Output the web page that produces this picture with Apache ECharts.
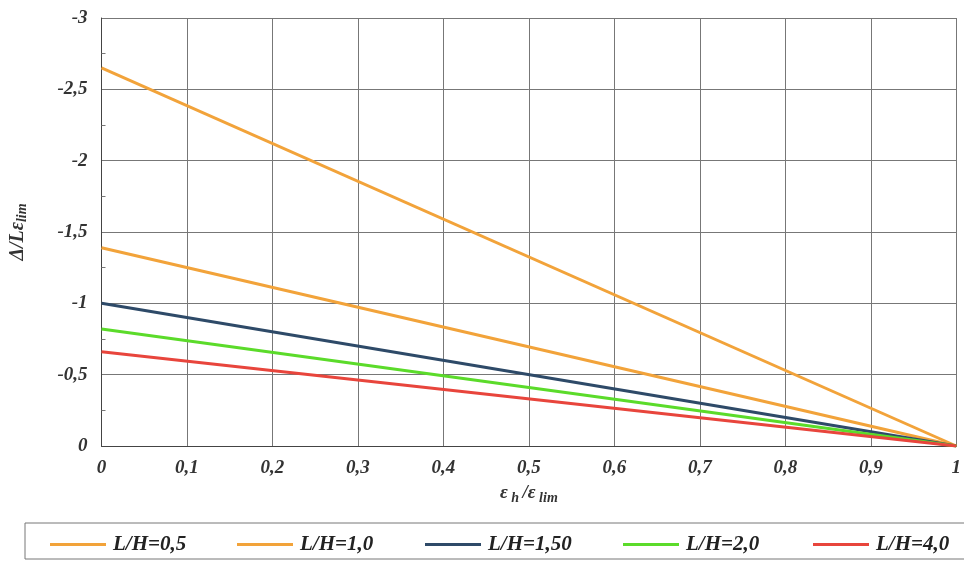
<!DOCTYPE html>
<html><head><meta charset="utf-8">
<script src="https://cdn.jsdelivr.net/npm/echarts@6/dist/echarts.min.js"></script>
<style>html,body{margin:0;padding:0;background:#fff}#c{width:964px;height:561px}</style>
</head><body><div id="c"></div>
<script>
const seriesNames = ['L/H=0,5', 'L/H=1,0', 'L/H=1,50', 'L/H=2,0', 'L/H=4,0'];
const xValues = [0, 1];
const yLH05 = [-2.65, 0];
const yLH10 = [-1.39, 0];
const yLH15 = [-1.0, 0];
const yLH20 = [-0.82, 0];
const yLH40 = [-0.66, 0];
const colors = ['#F2A33A', '#F2A33A', '#2E4A68', '#5BDB2A', '#E8453C'];
const allY = [yLH05, yLH10, yLH15, yLH20, yLH40];

const font = 'Liberation Serif';
const fmt = v => String(Math.round(v * 100) / 100).replace('.', ',');
const legendLefts = [45, 232, 420, 618, 808];

const chart = echarts.init(document.getElementById('c'));
chart.setOption({
  animation: false,
  backgroundColor: '#fff',
  grid: { left: 97, right: 5, top: 18, bottom: 115, containLabel: false },
  graphic: [{
    type: 'rect', shape: { x: 25, y: 523, width: 945, height: 36 },
    style: { fill: 'none', stroke: '#777', lineWidth: 1 }, z: 0
  }],
  legend: seriesNames.map((n, i) => ({
    data: [n], left: legendLefts[i], top: 529, icon: 'rect', itemWidth: 56, itemHeight: 3,
    textStyle: { fontFamily: font, fontStyle: 'italic', fontWeight: 'bold', fontSize: 21, color: '#222', padding: [0, 0, 0, 2] }
  })),
  xAxis: {
    type: 'value', min: 0, max: 1, interval: 0.1,
    axisLine: { show: true, lineStyle: { color: '#444', width: 1 } },
    axisTick: { show: false },
    splitLine: { show: true, lineStyle: { color: '#777', width: 1 } },
    axisLabel: { formatter: fmt, margin: 13, fontFamily: font, fontStyle: 'italic', fontWeight: 'bold', fontSize: 19, color: '#333' },
    name: '{e|ε}{s| h }{e|/ε}{s| lim}', nameLocation: 'middle', nameGap: 36,
    nameTextStyle: {
      rich: {
        e: { fontFamily: font, fontStyle: 'italic', fontWeight: 'bold', fontSize: 19, color: '#333' },
        s: { fontFamily: font, fontStyle: 'italic', fontWeight: 'bold', fontSize: 14, color: '#333', padding: [9, 0, 0, 0] }
      }
    }
  },
  yAxis: {
    type: 'value', min: -3, max: 0, interval: 0.5, inverse: true,
    axisLine: { show: true, lineStyle: { color: '#444', width: 1 } },
    axisTick: { show: false, inside: true },
    minorTick: { show: true, splitNumber: 2, length: 4, lineStyle: { color: '#777' } },
    splitLine: { show: true, lineStyle: { color: '#777', width: 1 } },
    axisLabel: { formatter: fmt, margin: 14, fontFamily: font, fontStyle: 'italic', fontWeight: 'bold', fontSize: 19, color: '#333' },
    name: '{e|Δ/Lε}{s|lim}', nameLocation: 'middle', nameGap: 72, nameRotate: 90,
    nameTextStyle: {
      rich: {
        e: { fontFamily: font, fontStyle: 'italic', fontWeight: 'bold', fontSize: 20, color: '#333' },
        s: { fontFamily: font, fontStyle: 'italic', fontWeight: 'bold', fontSize: 14, color: '#333', padding: [9, 0, 0, 0] }
      }
    }
  },
  series: seriesNames.map((n, i) => ({
    name: n, type: 'line', symbol: 'none', color: colors[i],
    lineStyle: { width: 3, color: colors[i] },
    data: xValues.map((x, j) => [x, allY[i][j]])
  }))
});
</script></body></html>
